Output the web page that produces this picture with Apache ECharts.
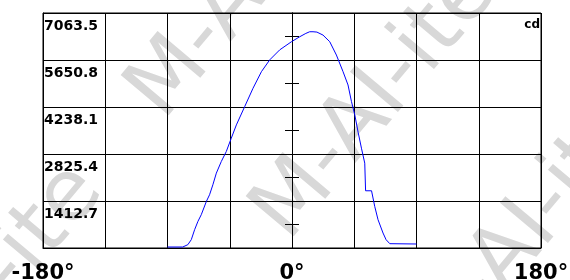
<!DOCTYPE html>
<html><head><meta charset="utf-8">
<script src="https://cdn.jsdelivr.net/npm/echarts@6/dist/echarts.min.js"></script>
<style>html,body{margin:0;padding:0;background:#fff}#c{width:570px;height:280px}</style>
</head><body><div id="c"></div>
<script>
// angle (degrees) of each sample
const angles = [-90, -79, -75.3, -72.8, -70.4, -68, -65.6, -61.9, -59.6, -57.2, -54.7, -51.1, -47.5, -43.9,
  -40.2, -34.2, -28.2, -22.1, -16.1, -8.9, -0.4, 5.6, 10, 12.8, 15.2, 18, 22.4, 27.3, 32.1, 36.9, 40.5, 43,
  45.4, 47.8, 50.2, 52.6, 53.2, 57.5, 59.8, 62.2, 65.8, 68, 70.7, 90];
// luminous intensity (cd)
const intensity = [30, 30, 100, 250, 550, 800, 1000, 1400, 1600, 1900, 2250, 2600, 2900, 3300,
  3700, 4250, 4800, 5300, 5655, 5955, 6200, 6350, 6450, 6500, 6500, 6490, 6400, 6200, 5800, 5300, 4900, 4400,
  4000, 3480, 3000, 2550, 1720, 1720, 1250, 850, 450, 250, 130, 120];
const xTickLabels = ['-180°', '0°', '180°'];
const xTickValues = [-180, 0, 180];
const yTickLabels = ['1412.7', '2825.4', '4238.1', '5650.8', '7063.5'];
const yStep = 1412.7;
const yMax = 7063.5;
const unitLabel = 'cd';
const watermarkWord = 'M-AI-ite';

const chart = echarts.init(document.getElementById('c'), null, {renderer: 'canvas'});
const FONT = '"DejaVu Sans", Verdana, sans-serif';
const deg = Math.PI / 180;
const wmRot = 50 * deg;
const wmSize = 86;
const ux = Math.cos(wmRot), uy = -Math.sin(wmRot);
const period = 420;
// centres of the 'M' of each watermark band
const bands = [[170, 79], [295, 200], [445, 331]];
const wm = [];
bands.forEach(b => {
  [-1, 0, 1].forEach(k => {
    const cx = b[0] + k * period * ux, cy = b[1] + k * period * uy;
    wm.push({
      type: 'text', x: cx - 0.43 * wmSize * ux, y: cy - 0.43 * wmSize * uy, rotation: wmRot, z: -10, silent: true,
      style: {text: watermarkWord, fill: '#d8d8d8', font: 'normal ' + wmSize + 'px ' + FONT,
        textAlign: 'left', textVerticalAlign: 'middle'}
    });
  });
});

const ytickAxis = (inside) => ({
  type: 'value', min: 0, max: yMax, interval: yStep / 2, position: 'left',
  axisLine: {show: true, onZero: true, onZeroAxisIndex: 0, lineStyle: {color: '#000', width: 1}},
  axisTick: {show: true, inside: inside, length: 7, lineStyle: {color: '#000', width: 1}},
  axisLabel: {show: false}, splitLine: {show: false}
});

chart.setOption({
  animation: false,
  backgroundColor: '#fff',
  grid: {left: 43, top: 13, width: 498, height: 235, show: true, borderColor: '#000', borderWidth: 1,
    backgroundColor: 'transparent', containLabel: false, outerBoundsMode: 'none'},
  graphic: wm.concat([{
    type: 'text', right: 30, top: 19, z: 10,
    style: {text: unitLabel, fill: '#000', font: 'bold 12px ' + FONT}
  }]),
  xAxis: {
    type: 'value', min: -180, max: 180, interval: 45,
    axisLine: {show: true, onZero: false, lineStyle: {color: '#000', width: 1}},
    axisTick: {show: false},
    splitLine: {show: true, lineStyle: {color: '#000', width: 1}},
    axisLabel: {
      show: true, showMinLabel: true, showMaxLabel: true, margin: 15,
      color: '#000', fontFamily: FONT, fontWeight: 'bold', fontSize: 21,
      formatter: v => { const i = xTickValues.indexOf(Math.round(v)); return i >= 0 ? xTickLabels[i] : ''; }
    }
  },
  yAxis: [{
    type: 'value', min: 0, max: yMax, interval: yStep,
    axisLine: {show: true, onZero: false, lineStyle: {color: '#000', width: 1}},
    axisTick: {show: false},
    splitLine: {show: true, lineStyle: {color: '#000', width: 1}},
    axisLabel: {
      show: true, inside: true, margin: 1, verticalAlign: 'top', align: 'left', padding: [6, 0, 0, 0],
      showMaxLabel: true, color: '#000', fontFamily: FONT, fontWeight: 'bold', fontSize: 14,
      formatter: v => { const i = Math.round(v / yStep); return i >= 1 ? yTickLabels[i - 1] : ''; }
    }
  }, ytickAxis(true), ytickAxis(false)],
  series: [{
    type: 'line', yAxisIndex: 0, showSymbol: false, symbol: 'none', smooth: false,
    lineStyle: {color: '#0000ff', width: 1}, z: 5,
    data: angles.map((a, i) => [a, intensity[i]])
  }]
});
</script>
</body></html>
